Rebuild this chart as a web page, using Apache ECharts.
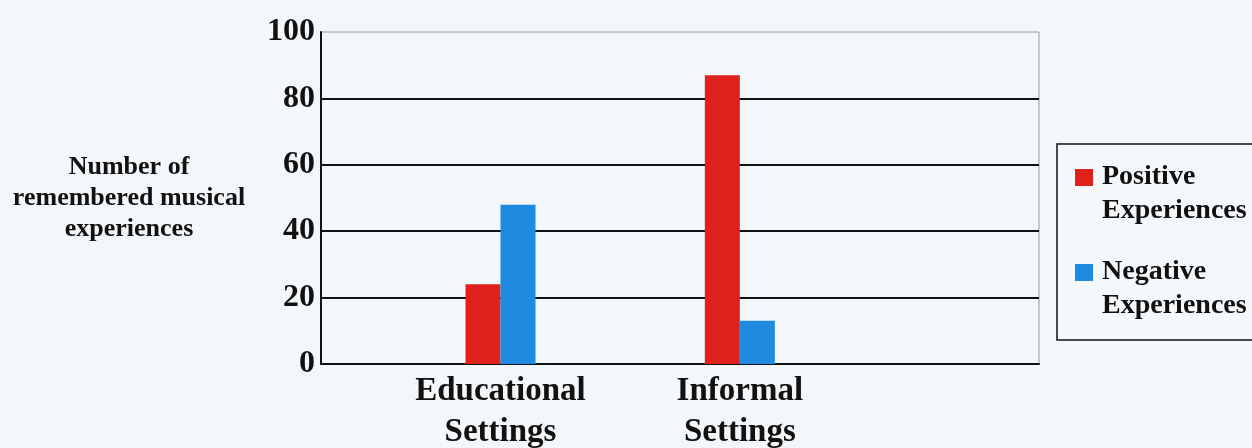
<!DOCTYPE html>
<html>
<head>
<meta charset="utf-8">
<script src="https://cdn.jsdelivr.net/npm/echarts@6/dist/echarts.min.js"></script>
<style>
  html, body { margin: 0; padding: 0; background: #f3f7fa; }
  #chart { width: 1252px; height: 448px; }
</style>
</head>
<body>
<div id="chart"></div>
<script>
// Settings compared and the count of remembered experiences in each
const categories = ['Educational\nSettings', 'Informal\nSettings'];
const positive = [24, 87];
const negative = [48, 13];
const seriesNames = ['Positive\nExperiences', 'Negative\nExperiences'];
const yTicks = { min: 0, max: 100, interval: 20 };

// The category axis is split into six equal slots; the two settings sit in slots 1 and 3
const slotCount = 6;
const slotOf = [1, 3];
const axisSlots = Array.from({ length: slotCount }, () => '');
const posSlots = Array.from({ length: slotCount }, () => null);
const negSlots = Array.from({ length: slotCount }, () => null);
categories.forEach((c, i) => {
  axisSlots[slotOf[i]] = c;
  posSlots[slotOf[i]] = positive[i];
  negSlots[slotOf[i]] = negative[i];
});

const serif = '"Liberation Serif", "Times New Roman", serif';
const ink = '#111111';

// Legend swatch: a square at the top of a tall, otherwise empty box so it lines up with the first text line
const swatch = 'path://M0,0L22,0M0,9L18,9L18,26L0,26ZM0,68L22,68';

const chart = echarts.init(document.getElementById('chart'), null, { renderer: 'canvas' });
chart.setOption({
  backgroundColor: '#f3f7fa',
  animation: false,
  grid: {
    left: 321, top: 32, width: 718, height: 332,
    containLabel: false, outerBoundsMode: 'none',
    show: true, borderColor: '#9a9a9a', borderWidth: 1, backgroundColor: 'transparent'
  },
  legend: {
    orient: 'vertical',
    left: 1057, top: 144,
    padding: [16, 40, 17, 18],
    itemGap: 27,
    itemWidth: 22, itemHeight: 68,
    borderColor: ink, borderWidth: 1.5,
    backgroundColor: '#f5f8fb',
    icon: swatch,
    textStyle: { fontFamily: serif, fontWeight: 'bold', fontSize: 28, lineHeight: 34, color: ink },
    data: seriesNames.map(n => ({ name: n, icon: swatch }))
  },
  xAxis: {
    type: 'category',
    data: axisSlots,
    axisTick: { show: false },
    axisLine: { lineStyle: { color: ink, width: 2 } },
    axisLabel: {
      interval: 0, margin: 7,
      fontFamily: serif, fontWeight: 'bold', fontSize: 33, lineHeight: 41, color: ink
    },
    splitLine: { show: false }
  },
  yAxis: {
    type: 'value',
    min: yTicks.min, max: yTicks.max, interval: yTicks.interval,
    name: 'Number of\nremembered musical\nexperiences',
    nameLocation: 'middle',
    nameRotate: 0,
    nameGap: 192,
    nameTextStyle: {
      fontFamily: serif, fontWeight: 'bold', fontSize: 26, lineHeight: 31,
      color: ink, align: 'center', verticalAlign: 'middle', padding: [0, 0, 8, 0]
    },
    axisLine: { show: true, lineStyle: { color: ink, width: 2 } },
    axisTick: { show: false },
    axisLabel: { margin: 6, fontFamily: serif, fontWeight: 'bold', fontSize: 32, color: ink },
    splitLine: { show: true, showMinLine: false, showMaxLine: false, lineStyle: { color: ink, width: 2 } }
  },
  series: [
    {
      name: seriesNames[0], type: 'bar', data: posSlots,
      barWidth: 35, barGap: '0%',
      itemStyle: { color: '#e0201b' }
    },
    {
      name: seriesNames[1], type: 'bar', data: negSlots,
      barWidth: 35, barGap: '0%',
      itemStyle: { color: '#1e8be0' }
    }
  ]
});
</script>
</body>
</html>
